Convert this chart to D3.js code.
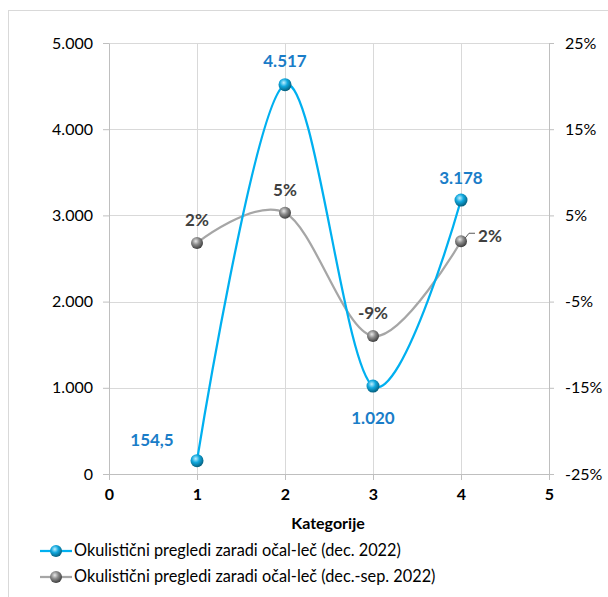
<!DOCTYPE html>
<html lang="sl">
<head>
<meta charset="UTF-8">
<title>Okulistični pregledi</title>
<script src="https://d3js.org/d3.v7.min.js"></script>
<style>
    body { margin: 0; background: #fff; }
    text { font-family: Lato, "Open Sans", sans-serif; }
</style>
</head>
<body>
<div id="chart"></div>
<script>
    // data
    const categories = [1, 2, 3, 4];
    const pregledDec = [154.5, 4517, 1020, 3178];
    const pregledDecSep = [0.018, 0.053, -0.09, 0.02];
    const pregledDecLabels = ["154,5", "4.517", "1.020", "3.178"];
    const pregledDecSepLabels = ["2%", "5%", "-9%", "2%"];
    const leftTicks = [0, 1000, 2000, 3000, 4000, 5000];
    const leftTickLabels = ["0", "1.000", "2.000", "3.000", "4.000", "5.000"];
    const rightTicks = [-0.25, -0.15, -0.05, 0.05, 0.15, 0.25];
    const rightTickLabels = ["-25%", "-15%", "-5%", "5%", "15%", "25%"];
    const xTicks = [0, 1, 2, 3, 4, 5];
    const seriesNames = [
        "Okulistični pregledi zaradi očal-leč (dec. 2022)",
        "Okulistični pregledi zaradi očal-leč (dec.-sep. 2022)"
    ];

    const W = 608, H = 597;
    const svg = d3.select("#chart").append("svg")
        .attr("width", W).attr("height", H);

    // sphere-like marker gradients
    const defs = svg.append("defs");
    function sphere(id, light, mid, dark) {
        const g = defs.append("radialGradient").attr("id", id)
            .attr("cx", "40%").attr("cy", "35%").attr("r", "65%");
        g.append("stop").attr("offset", "0%").attr("stop-color", light);
        g.append("stop").attr("offset", "45%").attr("stop-color", mid);
        g.append("stop").attr("offset", "100%").attr("stop-color", dark);
    }
    sphere("blueBall", "#bfefff", "#12a9df", "#05607f");
    sphere("grayBall", "#e8e8e8", "#8c8c8c", "#3f3f3f");

    // outer chart border
    svg.append("rect").attr("x", 8.5).attr("y", 10.5)
        .attr("width", W).attr("height", H)
        .attr("fill", "none").attr("stroke", "#d9d9d9");

    const x = d3.scaleLinear().domain([0, 5]).range([109, 549]);
    const yL = d3.scaleLinear().domain([0, 5000]).range([474, 43]);
    const yR = d3.scaleLinear().domain([-0.25, 0.25]).range([474, 43]);

    // grid
    svg.append("g").selectAll("line").data(leftTicks.slice(1)).join("line")
        .attr("x1", x(0)).attr("x2", x(5))
        .attr("y1", d => Math.round(yL(d)) + 0.5).attr("y2", d => Math.round(yL(d)) + 0.5)
        .attr("stroke", "#d9d9d9");
    svg.append("g").selectAll("line").data(xTicks.slice(1)).join("line")
        .attr("x1", d => Math.round(x(d)) + 0.5).attr("x2", d => Math.round(x(d)) + 0.5)
        .attr("y1", yL(0)).attr("y2", yL(5000))
        .attr("stroke", "#d9d9d9");

    // axes
    const axisL = svg.append("g").attr("transform", `translate(${x(0)},0)`)
        .call(d3.axisLeft(yL).tickValues(leftTicks)
            .tickFormat((d, i) => leftTickLabels[i]).tickSizeInner(6).tickSizeOuter(0).tickPadding(10));
    const axisR = svg.append("g").attr("transform", `translate(${x(5)},0)`)
        .call(d3.axisRight(yR).tickValues(rightTicks)
            .tickFormat((d, i) => rightTickLabels[i]).tickSizeInner(5).tickSizeOuter(0).tickPadding(11));
    const axisX = svg.append("g").attr("transform", `translate(0,${yL(0)})`)
        .call(d3.axisBottom(x).tickValues(xTicks).tickFormat(d3.format("d"))
            .tickSizeInner(6).tickSizeOuter(0).tickPadding(9));
    [axisL, axisR, axisX].forEach(a => {
        a.select(".domain").attr("stroke", "#bfbfbf");
        a.selectAll(".tick line").attr("stroke", "#bfbfbf");
        a.selectAll("text").attr("fill", "#000").style("font-size", "16px")
            .style("font-family", "Lato, sans-serif");
    });
    axisX.selectAll("text").style("font-weight", "bold");

    svg.append("text").attr("x", 328).attr("y", 529)
        .attr("text-anchor", "middle").style("font-size", "16px")
        .style("font-weight", "bold").text("Kategorije");

    // lines
    const lineL = d3.line().x((d, i) => x(categories[i])).y(d => yL(d))
        .curve(d3.curveCatmullRom.alpha(0));
    const lineR = d3.line().x((d, i) => x(categories[i])).y(d => yR(d))
        .curve(d3.curveCatmullRom.alpha(0));

    svg.append("path").datum(pregledDecSep).attr("d", lineR)
        .attr("fill", "none").attr("stroke", "#a6a6a6").attr("stroke-width", 2.25);
    svg.append("path").datum(pregledDec).attr("d", lineL)
        .attr("fill", "none").attr("stroke", "#00b0f0").attr("stroke-width", 2.25);

    svg.append("g").selectAll("circle").data(pregledDecSep).join("circle")
        .attr("cx", (d, i) => x(categories[i])).attr("cy", d => yR(d))
        .attr("r", 6).attr("fill", "url(#grayBall)");
    svg.append("g").selectAll("circle").data(pregledDec).join("circle")
        .attr("cx", (d, i) => x(categories[i])).attr("cy", d => yL(d))
        .attr("r", 6.5).attr("fill", "url(#blueBall)");

    // data labels
    const blueOffsets = [[-45, -15], [0, -18], [0, 38], [0, -16]];
    svg.append("g").selectAll("text").data(pregledDec).join("text")
        .attr("x", (d, i) => x(categories[i]) + blueOffsets[i][0])
        .attr("y", (d, i) => yL(d) + blueOffsets[i][1])
        .attr("text-anchor", "middle").attr("fill", "#1a7dc8")
        .style("font-size", "17px").style("font-weight", "bold")
        .text((d, i) => pregledDecLabels[i]);

    const grayOffsets = [[0, -17], [0, -17], [0, -17], [29, 1]];
    svg.append("g").selectAll("text").data(pregledDecSep).join("text")
        .attr("x", (d, i) => x(categories[i]) + grayOffsets[i][0])
        .attr("y", (d, i) => yR(d) + grayOffsets[i][1])
        .attr("text-anchor", "middle").attr("fill", "#404040")
        .style("font-size", "17px").style("font-weight", "bold")
        .text((d, i) => pregledDecSepLabels[i]);
    // leader line for last gray label
    const lx = x(categories[3]), ly = yR(pregledDecSep[3]);
    svg.append("path")
        .attr("d", `M${lx + 4},${ly - 3} L${lx + 8},${ly - 8} L${lx + 14},${ly - 8}`)
        .attr("fill", "none").attr("stroke", "#595959").attr("stroke-width", 1);

    // legend
    const legend = svg.append("g");
    const colors = ["#00b0f0", "#a6a6a6"];
    const balls = ["url(#blueBall)", "url(#grayBall)"];
    seriesNames.forEach((name, i) => {
        const ly2 = 551 + i * 26;
        legend.append("line").attr("x1", 40).attr("x2", 72).attr("y1", ly2).attr("y2", ly2)
            .attr("stroke", colors[i]).attr("stroke-width", 2.25);
        legend.append("circle").attr("cx", 56).attr("cy", ly2).attr("r", 6)
            .attr("fill", balls[i]);
        legend.append("text").attr("x", 74).attr("y", ly2 + 5)
            .style("font-size", "16.3px").attr("fill", "#000").text(name);
    });
</script>
</body>
</html>
